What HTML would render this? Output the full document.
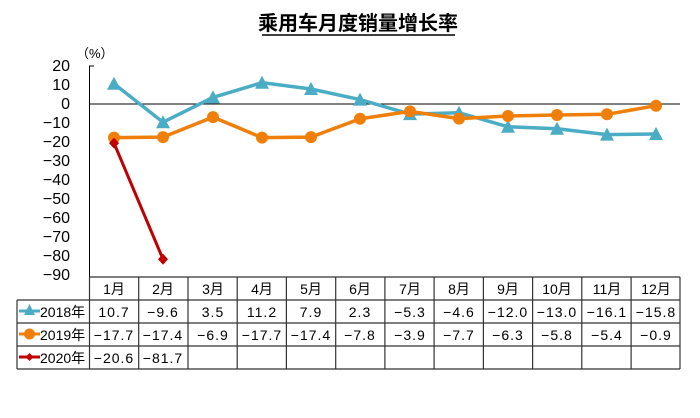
<!DOCTYPE html>
<html><head><meta charset="utf-8"><style>
body{margin:0;background:#fff;}
text{font-family:"Liberation Sans","Noto Sans CJK SC",sans-serif;}
</style></head><body>
<svg width="700" height="413" xmlns="http://www.w3.org/2000/svg">
<text x="358" y="30" font-size="20" font-weight="bold" text-anchor="middle" fill="#000">乘用车月度销量增长率</text>
<line x1="262" y1="35" x2="455" y2="35" stroke="#000" stroke-width="1.5"/>
<text x="76" y="58" font-size="13" fill="#000">（%）</text>
<g font-size="16" fill="#000" text-anchor="end">
<text x="70" y="71">20</text><text x="70" y="90">10</text><text x="70" y="109">0</text>
<text x="70" y="128">−10</text><text x="70" y="147">−20</text><text x="70" y="166">−30</text>
<text x="70" y="185">−40</text><text x="70" y="204">−50</text><text x="70" y="223">−60</text>
<text x="70" y="242">−70</text><text x="70" y="261">−80</text><text x="70" y="280">−90</text>
</g>
<line x1="89.5" y1="66" x2="89.5" y2="277" stroke="#000"/>
<line x1="89" y1="66" x2="94" y2="66" stroke="#000"/>
<line x1="89.5" y1="104" x2="680" y2="104" stroke="#000"/>
<g stroke="#333" stroke-width="1.2" fill="none">
<line x1="89.5" y1="277" x2="680" y2="277"/>
<line x1="17" y1="300" x2="680" y2="300"/>
<line x1="17" y1="323" x2="680" y2="323"/>
<line x1="17" y1="346" x2="680" y2="346"/>
<line x1="17" y1="369" x2="680" y2="369"/>
<line x1="17" y1="300" x2="17" y2="369"/>
<line x1="89.5" y1="277" x2="89.5" y2="369"/>
<line x1="138.7" y1="277" x2="138.7" y2="369"/><line x1="188" y1="277" x2="188" y2="369"/>
<line x1="237.2" y1="277" x2="237.2" y2="369"/><line x1="286.4" y1="277" x2="286.4" y2="369"/>
<line x1="335.7" y1="277" x2="335.7" y2="369"/><line x1="384.9" y1="277" x2="384.9" y2="369"/>
<line x1="434.1" y1="277" x2="434.1" y2="369"/><line x1="483.4" y1="277" x2="483.4" y2="369"/>
<line x1="532.6" y1="277" x2="532.6" y2="369"/><line x1="581.8" y1="277" x2="581.8" y2="369"/>
<line x1="631.1" y1="277" x2="631.1" y2="369"/><line x1="680" y1="277" x2="680" y2="369"/>
</g>
<g font-size="14" fill="#000" text-anchor="middle">
<text x="114" y="294">1月</text><text x="163" y="294">2月</text><text x="213" y="294">3月</text><text x="262" y="294">4月</text><text x="311" y="294">5月</text><text x="360" y="294">6月</text><text x="410" y="294">7月</text><text x="459" y="294">8月</text><text x="508" y="294">9月</text><text x="557" y="294">10月</text><text x="607" y="294">11月</text><text x="656" y="294">12月</text>
</g>
<g font-size="14" fill="#000" text-anchor="middle" letter-spacing="1">
<text x="114" y="317">10.7</text><text x="163" y="317">−9.6</text><text x="213" y="317">3.5</text><text x="262" y="317">11.2</text><text x="311" y="317">7.9</text><text x="360" y="317">2.3</text><text x="410" y="317">−5.3</text><text x="459" y="317">−4.6</text><text x="508" y="317">−12.0</text><text x="557" y="317">−13.0</text><text x="607" y="317">−16.1</text><text x="656" y="317">−15.8</text>
<text x="114" y="340">−17.7</text><text x="163" y="340">−17.4</text><text x="213" y="340">−6.9</text><text x="262" y="340">−17.7</text><text x="311" y="340">−17.4</text><text x="360" y="340">−7.8</text><text x="410" y="340">−3.9</text><text x="459" y="340">−7.7</text><text x="508" y="340">−6.3</text><text x="557" y="340">−5.8</text><text x="607" y="340">−5.4</text><text x="656" y="340">−0.9</text>
<text x="114" y="363">−20.6</text><text x="163" y="363">−81.7</text>
</g>
<g font-size="14" fill="#000"><text x="40" y="317">2018年</text><text x="40" y="340">2019年</text><text x="40" y="363">2020年</text></g>
<line x1="19" y1="311" x2="40" y2="311" stroke="#4bacc6" stroke-width="3"/><polygon points="29.5,304 35,315 24,315" fill="#4bacc6"/>
<line x1="19" y1="334" x2="40" y2="334" stroke="#f07f09" stroke-width="3"/><circle cx="29.5" cy="334" r="5.5" fill="#f07f09"/>
<line x1="19" y1="357" x2="40" y2="357" stroke="#c00000" stroke-width="3"/><polygon points="29.5,353 33.5,357 29.5,361 25.5,357" fill="#c00000"/>
<polyline fill="none" stroke="#4bacc6" stroke-width="3.5" points="114,83.7 163,122.2 213,97.4 262,82.7 311,89 360,99.6 410,114.1 459,112.7 508,126.8 557,128.7 607,134.6 656,134"/>
<g fill="#4bacc6">
<polygon points="114,76.7 121,89.7 107,89.7"/><polygon points="163,115.2 170,128.2 156,128.2"/><polygon points="213,90.4 220,103.4 206,103.4"/><polygon points="262,75.7 269,88.7 255,88.7"/><polygon points="311,82 318,95 304,95"/><polygon points="360,92.6 367,105.6 353,105.6"/><polygon points="410,107.1 417,120.1 403,120.1"/><polygon points="459,105.7 466,118.7 452,118.7"/><polygon points="508,119.8 515,132.8 501,132.8"/><polygon points="557,121.7 564,134.7 550,134.7"/><polygon points="607,127.6 614,140.6 600,140.6"/><polygon points="656,127 663,140 649,140"/>
</g>
<polyline fill="none" stroke="#f07f09" stroke-width="3.5" points="114,137.6 163,137.1 213,117.1 262,137.6 311,137.1 360,118.8 410,111.4 459,118.6 508,116 557,115 607,114.3 656,105.7"/>
<g fill="#f07f09">
<circle cx="114" cy="137.6" r="6"/><circle cx="163" cy="137.1" r="6"/><circle cx="213" cy="117.1" r="6"/><circle cx="262" cy="137.6" r="6"/><circle cx="311" cy="137.1" r="6"/><circle cx="360" cy="118.8" r="6"/><circle cx="410" cy="111.4" r="6"/><circle cx="459" cy="118.6" r="6"/><circle cx="508" cy="116" r="6"/><circle cx="557" cy="115" r="6"/><circle cx="607" cy="114.3" r="6"/><circle cx="656" cy="105.7" r="6"/>
</g>
<polyline fill="none" stroke="#c00000" stroke-width="3" points="114,143.1 163,259.2"/>
<polygon points="114,137.6 119,143.1 114,148.6 109,143.1" fill="#c00000"/>
<polygon points="163,253.7 168,259.2 163,264.7 158,259.2" fill="#c00000"/>
</svg>
</body></html>
